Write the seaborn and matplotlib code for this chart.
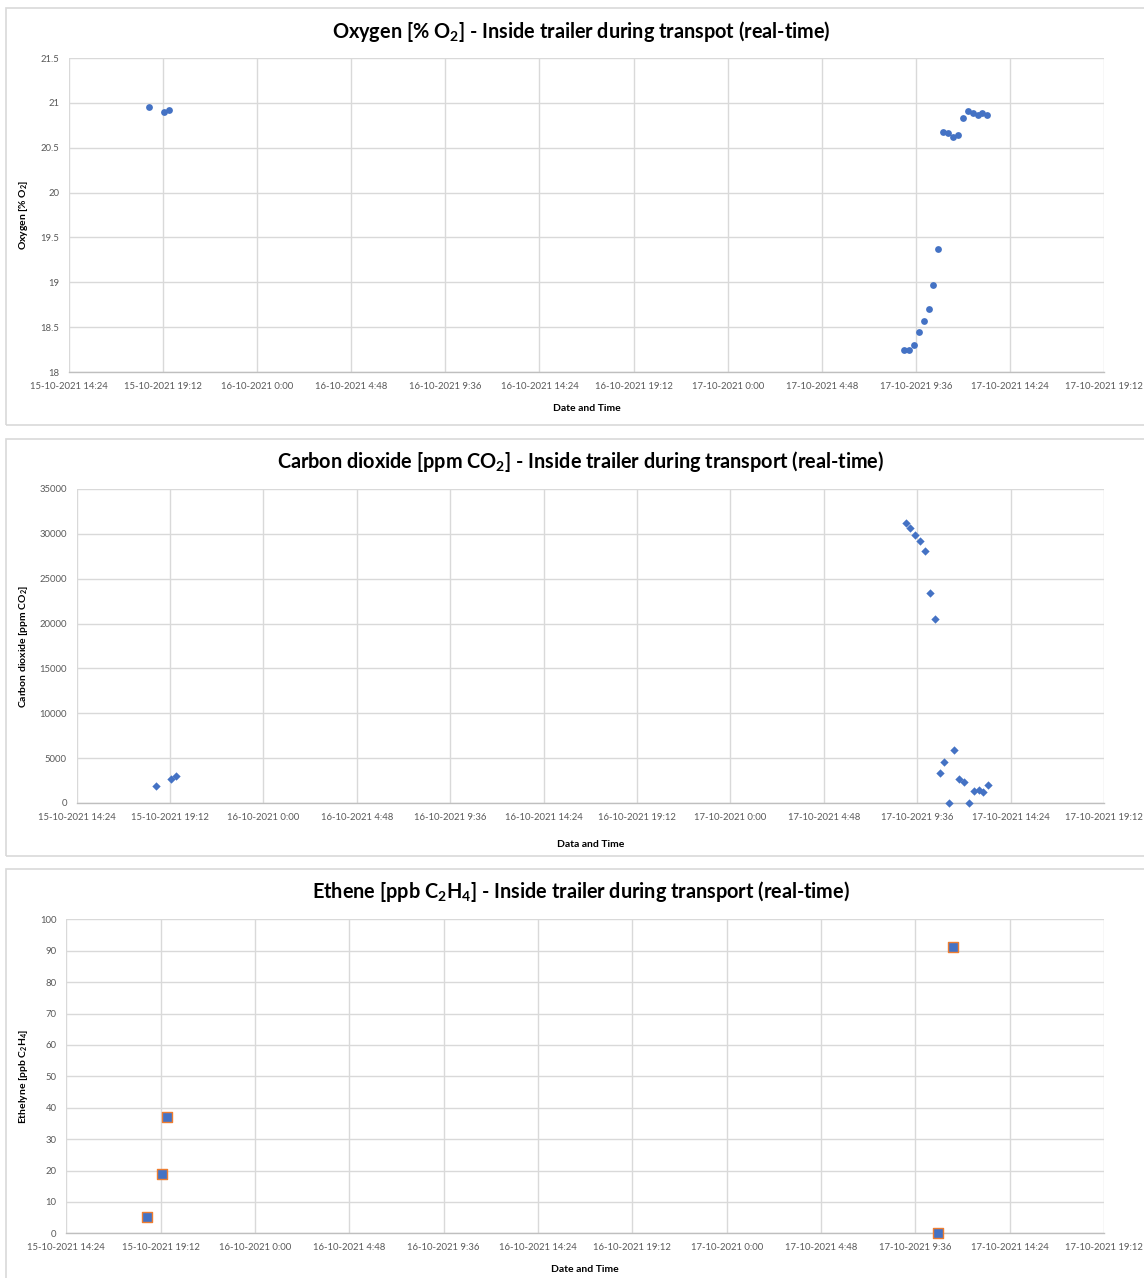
import pandas as pd
import numpy as np
import matplotlib.pyplot as plt
import matplotlib.ticker as mticker
import matplotlib.dates as mdates
from matplotlib.patches import Rectangle
import seaborn as sns

# Datos (tiempo, valor)
o2_time = ["2021-10-15 18:30", "2021-10-15 19:15", "2021-10-15 19:30",
           "2021-10-17 09:00", "2021-10-17 09:15", "2021-10-17 09:30", "2021-10-17 09:45",
           "2021-10-17 10:00", "2021-10-17 10:15", "2021-10-17 10:30", "2021-10-17 10:45",
           "2021-10-17 11:00", "2021-10-17 11:15", "2021-10-17 11:30", "2021-10-17 11:45",
           "2021-10-17 12:00", "2021-10-17 12:15", "2021-10-17 12:30", "2021-10-17 12:45",
           "2021-10-17 13:00", "2021-10-17 13:15"]
o2_value = [20.95, 20.90, 20.92,
            18.24, 18.25, 18.30, 18.45, 18.57, 18.70, 18.97, 19.37,
            20.67, 20.66, 20.62, 20.64, 20.83, 20.91, 20.89, 20.87, 20.89, 20.87]

co2_time = o2_time
co2_value = [1900, 2680, 3040,
             31250, 30620, 29840, 29210, 28100, 23460, 20500, 3300,
             4590, 0, 5860, 2700, 2370, 0, 1330, 1480, 1220, 2000]

c2h4_time = ["2021-10-15 18:30", "2021-10-15 19:15", "2021-10-15 19:30",
             "2021-10-17 10:45", "2021-10-17 11:30"]
c2h4_value = [5.3, 19.0, 36.9, 0.0, 91.3]

x_start = "2021-10-15 14:24"
x_end = "2021-10-17 19:12"

titles = [r"Oxygen [% O$_\mathbf{2}$] - Inside trailer during transpot (real-time)",
          r"Carbon dioxide [ppm CO$_\mathbf{2}$] - Inside trailer during transport (real-time)",
          r"Ethene [ppb C$_\mathbf{2}$H$_\mathbf{4}$] - Inside trailer during transport (real-time)"]
ylabels = [r"Oxygen [% O$_\mathbf{2}$]",
           r"Carbon dioxide [ppm CO$_\mathbf{2}$]",
           r"Ethelyne [ppb C$_\mathbf{2}$H$_\mathbf{4}$]"]
xlabels = ["Date and Time", "Data and Time", "Date and Time"]

sns.set_theme(style="whitegrid")
plt.rcParams['font.family'] = ['Lato', 'DejaVu Sans']
plt.rcParams['mathtext.fontset'] = 'custom'
plt.rcParams['mathtext.rm'] = 'Lato'
plt.rcParams['mathtext.bf'] = 'Lato:bold'

W, H = 1144, 1278
fig = plt.figure(figsize=(W / 100, H / 100), dpi=100)

BLUE = "#4472C4"
GRID = "#D9D9D9"
TXT = "#595959"

# marcos de cada panel (px)
for top, bottom in [(8, 425), (439, 856), (869, 1290)]:
    fig.patches.append(Rectangle((6 / W, 1 - bottom / H), 1.1, (bottom - top) / H,
                                 transform=fig.transFigure, fill=False,
                                 edgecolor=GRID, lw=1.2))

# áreas de trazado (px): izquierda, arriba, derecha, abajo
areas = [(69, 58, 1104, 372), (76.7, 489, 1104, 803), (66.3, 919.3, 1104, 1233.3)]
title_y = [32, 462, 892]
xlabel_y = [404, 840, 1265]

dfs = [pd.DataFrame({"t": pd.to_datetime(o2_time), "v": o2_value}),
       pd.DataFrame({"t": pd.to_datetime(co2_time), "v": co2_value}),
       pd.DataFrame({"t": pd.to_datetime(c2h4_time), "v": c2h4_value})]
ylims = [(18, 21.5, 0.5), (0, 35000, 5000), (0, 100, 10)]
markers = ["o", "D", "s"]
sizes = [24, 18, 42]
edges = [BLUE, BLUE, "#ED7D31"]


def fmt_date(x, pos):
    d = mdates.num2date(x)
    return f"{d.day:02d}-{d.month:02d}-{d.year} {d.hour}:{d.minute:02d}"


ticks = pd.date_range(x_start, x_end, freq="288min")

for i in range(3):
    l, t, r, b = areas[i]
    ax = fig.add_axes([l / W, 1 - b / H, (r - l) / W, (b - t) / H])
    sns.scatterplot(data=dfs[i], x="t", y="v", ax=ax, marker=markers[i], s=sizes[i],
                    color=BLUE, edgecolor=edges[i], linewidth=1.0 if i == 2 else 0,
                    clip_on=False, zorder=3)
    lo, hi, step = ylims[i]
    ax.set_ylim(lo, hi)
    ax.yaxis.set_major_locator(mticker.MultipleLocator(step))
    ax.yaxis.set_major_formatter(mticker.FuncFormatter(lambda v, p: f"{v:g}"))
    ax.set_xlim(pd.Timestamp(x_start), pd.Timestamp(x_end))
    ax.set_xticks(ticks)
    ax.xaxis.set_major_formatter(mticker.FuncFormatter(fmt_date))
    ax.grid(True, color=GRID, lw=1)
    for s in ["top", "right", "left"]:
        ax.spines[s].set_visible(False)
    ax.spines["bottom"].set_color("#BFBFBF")
    ax.spines["bottom"].set_linewidth(1)
    ax.tick_params(axis="both", length=0, labelsize=6.8, colors=TXT, pad=7)
    ax.set_xlabel(xlabels[i], fontsize=7.5, fontweight="bold", color="black")
    ax.xaxis.set_label_coords(0.5, -(xlabel_y[i] - b) / (b - t))
    ax.set_ylabel(ylabels[i], fontsize=7.5, fontweight="bold", color="black")
    ax.yaxis.set_label_coords(-(l - 30) / (r - l), 0.5)
    fig.text(581 / W, 1 - title_y[i] / H, titles[i], ha="center", va="center",
             fontsize=14.3, fontweight="bold", color="black")

fig.savefig("out.png", dpi=100)
